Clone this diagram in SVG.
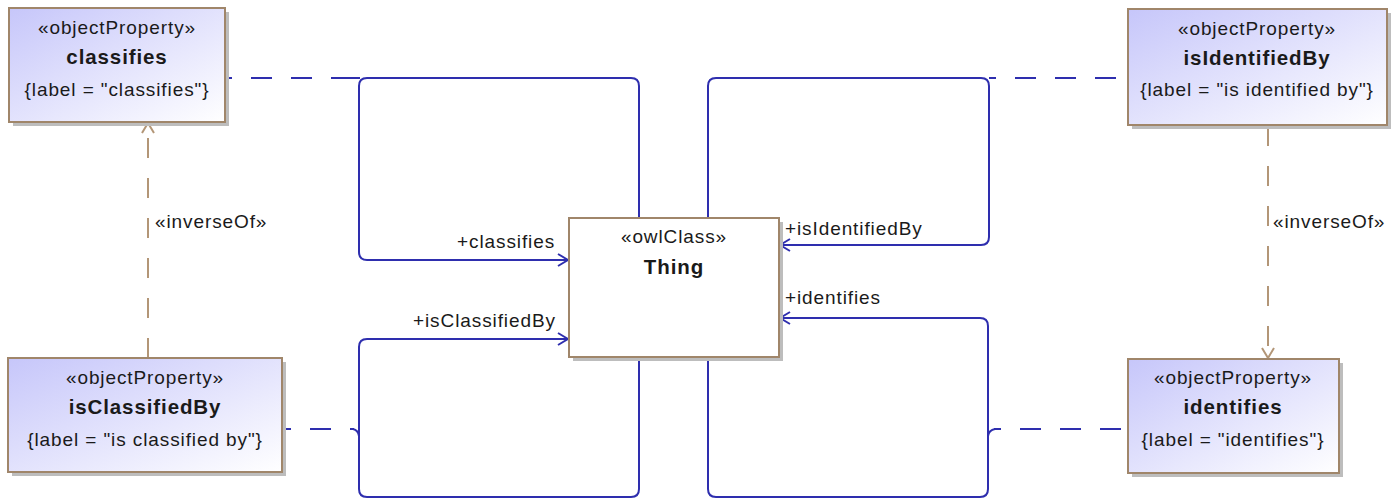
<svg xmlns="http://www.w3.org/2000/svg" width="1395" height="500" viewBox="0 0 1395 500">
<style>
text{font-family:"Liberation Sans",Arial,sans-serif;font-size:19px;letter-spacing:0.9px;fill:#1a1a1a}
.c{text-anchor:middle}
.b{font-weight:bold;font-size:20.5px}
.box{fill:url(#g);stroke:#a0866a;stroke-width:2}
.wbox{fill:#fff;stroke:#a0866a;stroke-width:2}
.sh{fill:#bdbdbd}
.assoc{fill:none;stroke:#2e2eae;stroke-width:2}
.dash{fill:none;stroke:#2e2eae;stroke-width:2;stroke-dasharray:21 19}
.inv{fill:none;stroke:#b39677;stroke-width:2;stroke-dasharray:20 20}
</style>
<defs>
<linearGradient id="g" x1="0" y1="0" x2="1" y2="1">
<stop offset="0" stop-color="#c6c6fa"/>
<stop offset="1" stop-color="#ffffff"/>
</linearGradient>
<marker id="ab" viewBox="0 0 12 14" refX="11" refY="7" markerWidth="12" markerHeight="14" markerUnits="userSpaceOnUse" orient="auto">
<path d="M1,1 L11,7 L1,13" fill="none" stroke="#2e2eae" stroke-width="2"/>
</marker>
<marker id="ai" viewBox="0 0 12 14" refX="11" refY="7" markerWidth="12" markerHeight="14" markerUnits="userSpaceOnUse" orient="auto">
<path d="M1,1 L11,7 L1,13" fill="none" stroke="#b39677" stroke-width="2"/>
</marker>
</defs>
<rect width="1395" height="500" fill="#fff"/>

<g id="connectors">
<path class="dash" d="M225,78 H352" stroke-dashoffset="14"/>
<path class="dash" d="M989,78 H1128" stroke-dashoffset="14"/>
<path class="dash" d="M282,429 H354" stroke-dashoffset="12"/>
<path class="dash" d="M994,429 H1128" stroke-dashoffset="14"/>
<path class="assoc" d="M352,78 H360"/>
<path class="assoc" d="M989,78 H996"/>
<path class="assoc" d="M353,429 Q358,430 359,436"/>
<path class="assoc" d="M995,429 Q989,430 988,436"/>
<path class="assoc" marker-end="url(#ab)" d="M639,218 V86 Q639,78 631,78 H367 Q359,78 359,86 V252 Q359,260 367,260 H568"/>
<path class="assoc" marker-end="url(#ab)" d="M708,218 V86 Q708,78 716,78 H981 Q989,78 989,86 V237 Q989,245 981,245 H780"/>
<path class="assoc" marker-end="url(#ab)" d="M639,357 V489 Q639,497 631,497 H367 Q359,497 359,489 V347 Q359,339 367,339 H568"/>
<path class="assoc" marker-end="url(#ab)" d="M708,357 V489 Q708,497 716,497 H980 Q988,497 988,489 V326 Q988,318 980,318 H780"/>
<path class="inv" marker-end="url(#ai)" d="M148,358 V123"/>
<path class="inv" marker-end="url(#ai)" d="M1268,126 V358"/>
<text x="457" y="248">+classifies</text>
<text x="785" y="235">+isIdentifiedBy</text>
<text x="785" y="304">+identifies</text>
<text x="413" y="327">+isClassifiedBy</text>
<text x="155" y="228">«inverseOf»</text>
<text x="1273" y="228">«inverseOf»</text>
</g>

<g id="classifies">
<rect class="sh" x="13" y="12" width="216" height="114"/>
<rect class="box" x="9" y="8" width="216" height="114"/>
<text class="c" x="117" y="34">«objectProperty»</text>
<text class="c b" x="117" y="64">classifies</text>
<text class="c" x="117" y="96">{label = "classifies"}</text>
</g>

<g id="isIdentifiedBy">
<rect class="sh" x="1132" y="13" width="259" height="116"/>
<rect class="box" x="1128" y="9" width="259" height="116"/>
<text class="c" x="1257" y="35">«objectProperty»</text>
<text class="c b" x="1257" y="65">isIdentifiedBy</text>
<text class="c" x="1257" y="96">{label = "is identified by"}</text>
</g>

<g id="isClassifiedBy">
<rect class="sh" x="12" y="362" width="274" height="114"/>
<rect class="box" x="8" y="358" width="274" height="114"/>
<text class="c" x="145" y="384">«objectProperty»</text>
<text class="c b" x="145" y="414">isClassifiedBy</text>
<text class="c" x="145" y="446">{label = "is classified by"}</text>
</g>

<g id="identifies">
<rect class="sh" x="1132" y="363" width="211" height="114"/>
<rect class="box" x="1128" y="359" width="211" height="114"/>
<text class="c" x="1233" y="384">«objectProperty»</text>
<text class="c b" x="1233" y="414">identifies</text>
<text class="c" x="1233" y="446">{label = "identifies"}</text>
</g>

<g id="Thing">
<rect class="sh" x="573" y="222" width="210" height="139"/>
<rect class="wbox" x="569" y="218" width="210" height="139"/>
<text class="c" x="674" y="243">«owlClass»</text>
<text class="c b" x="674" y="274">Thing</text>
</g>
</svg>
